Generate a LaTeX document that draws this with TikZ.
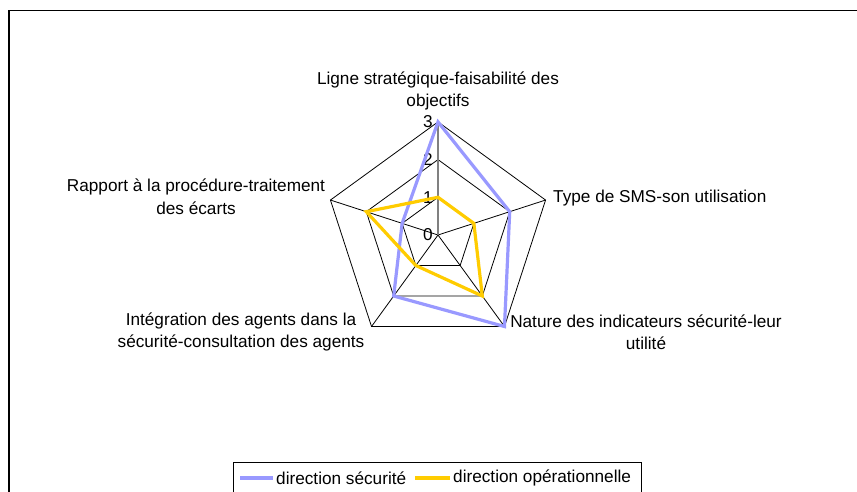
\documentclass[tikz,border=0pt]{standalone}
\usepackage{fontspec}
\setmainfont{Liberation Sans}
\definecolor{secblue}{HTML}{9999FF}
\definecolor{opyellow}{HTML}{FFCC00}
\definecolor{axisgray}{HTML}{808080}
\begin{document}
\begin{tikzpicture}[x=1pt,y=1pt,
  every node/.style={inner sep=0pt,font=\fontsize{17.2}{22.5}\selectfont},
  grid/.style={black,line width=0.8pt,line join=miter},
  valaxis/.style={axisgray,line width=1.3pt},
  series/.style={line width=3.2pt,line join=miter},
  lbl/.style={align=center},
  tick/.style={anchor=east}]
\useasboundingbox (0,0) rectangle (857,-492);
\fill[white] (0,0) rectangle (857,-492);
% chart area frame
\draw[line width=1.5pt] (9,-495) -- (9,-10.5) -- (860,-10.5);
% radar chart, centred on the plot origin
\def\u{37.7}
\begin{scope}[shift={(438,-235)}]
  \coordinate (O) at (0,0);
  \foreach \a [count=\i] in {90,18,-54,-126,162}
    \coordinate (ax\i) at (\a:3*\u);
  % grid pentagons
  \foreach \r in {1,2,3}
    \draw[grid] (90:\r*\u) -- (18:\r*\u) -- (-54:\r*\u) -- (-126:\r*\u) -- (162:\r*\u) -- cycle;
  % spokes
  \foreach \i in {2,3,4,5} \draw[grid] (O) -- (ax\i);
  \draw[valaxis] (O) -- (ax1);
  % value labels
  \foreach \v in {0,1,2,3}
    \node[tick] (t\v) at (-5,\v*\u) {\v};
  % series
  \draw[series,secblue] (90:3*\u) -- (18:2*\u) -- (-54:3*\u) -- (-126:2*\u) -- (162:1*\u) -- cycle;
  \draw[series,opyellow] (90:1*\u) -- (18:1*\u) -- (-54:2*\u) -- (-126:1*\u) -- (162:2*\u) -- cycle;
\end{scope}
% category labels
\node[lbl] (c1) at (438,-91) {Ligne stratégique-faisabilité des\\objectifs};
\node[anchor=west] (c2) at (553,-198) {Type de SMS-son utilisation};
\node[lbl] (c3) at (646,-332) {Nature des indicateurs sécurité-leur\\utilité};
\node[lbl] (c4) at (241,-332) {Intégration des agents dans la\\sécurité-consultation des agents};
\node[lbl] (c5) at (196,-197) {Rapport à la procédure-traitement\\des écarts};
% legend
\draw[black,line width=0.8pt] (233,-495) -- (233,-462.7) -- (641.7,-462.7) -- (641.7,-495);
\draw[line width=3.2pt,secblue] (240,-478) coordinate (l1a) -- (273,-478) coordinate (l1b);
\node[anchor=west] (e1) at (276,-478) {direction sécurité};
\draw[line width=3.2pt,opyellow] (415,-478) coordinate (l2a) -- (450,-478) coordinate (l2b);
\node[anchor=west] (e2) at (453,-478) {direction opérationnelle};
\end{tikzpicture}
\end{document}
